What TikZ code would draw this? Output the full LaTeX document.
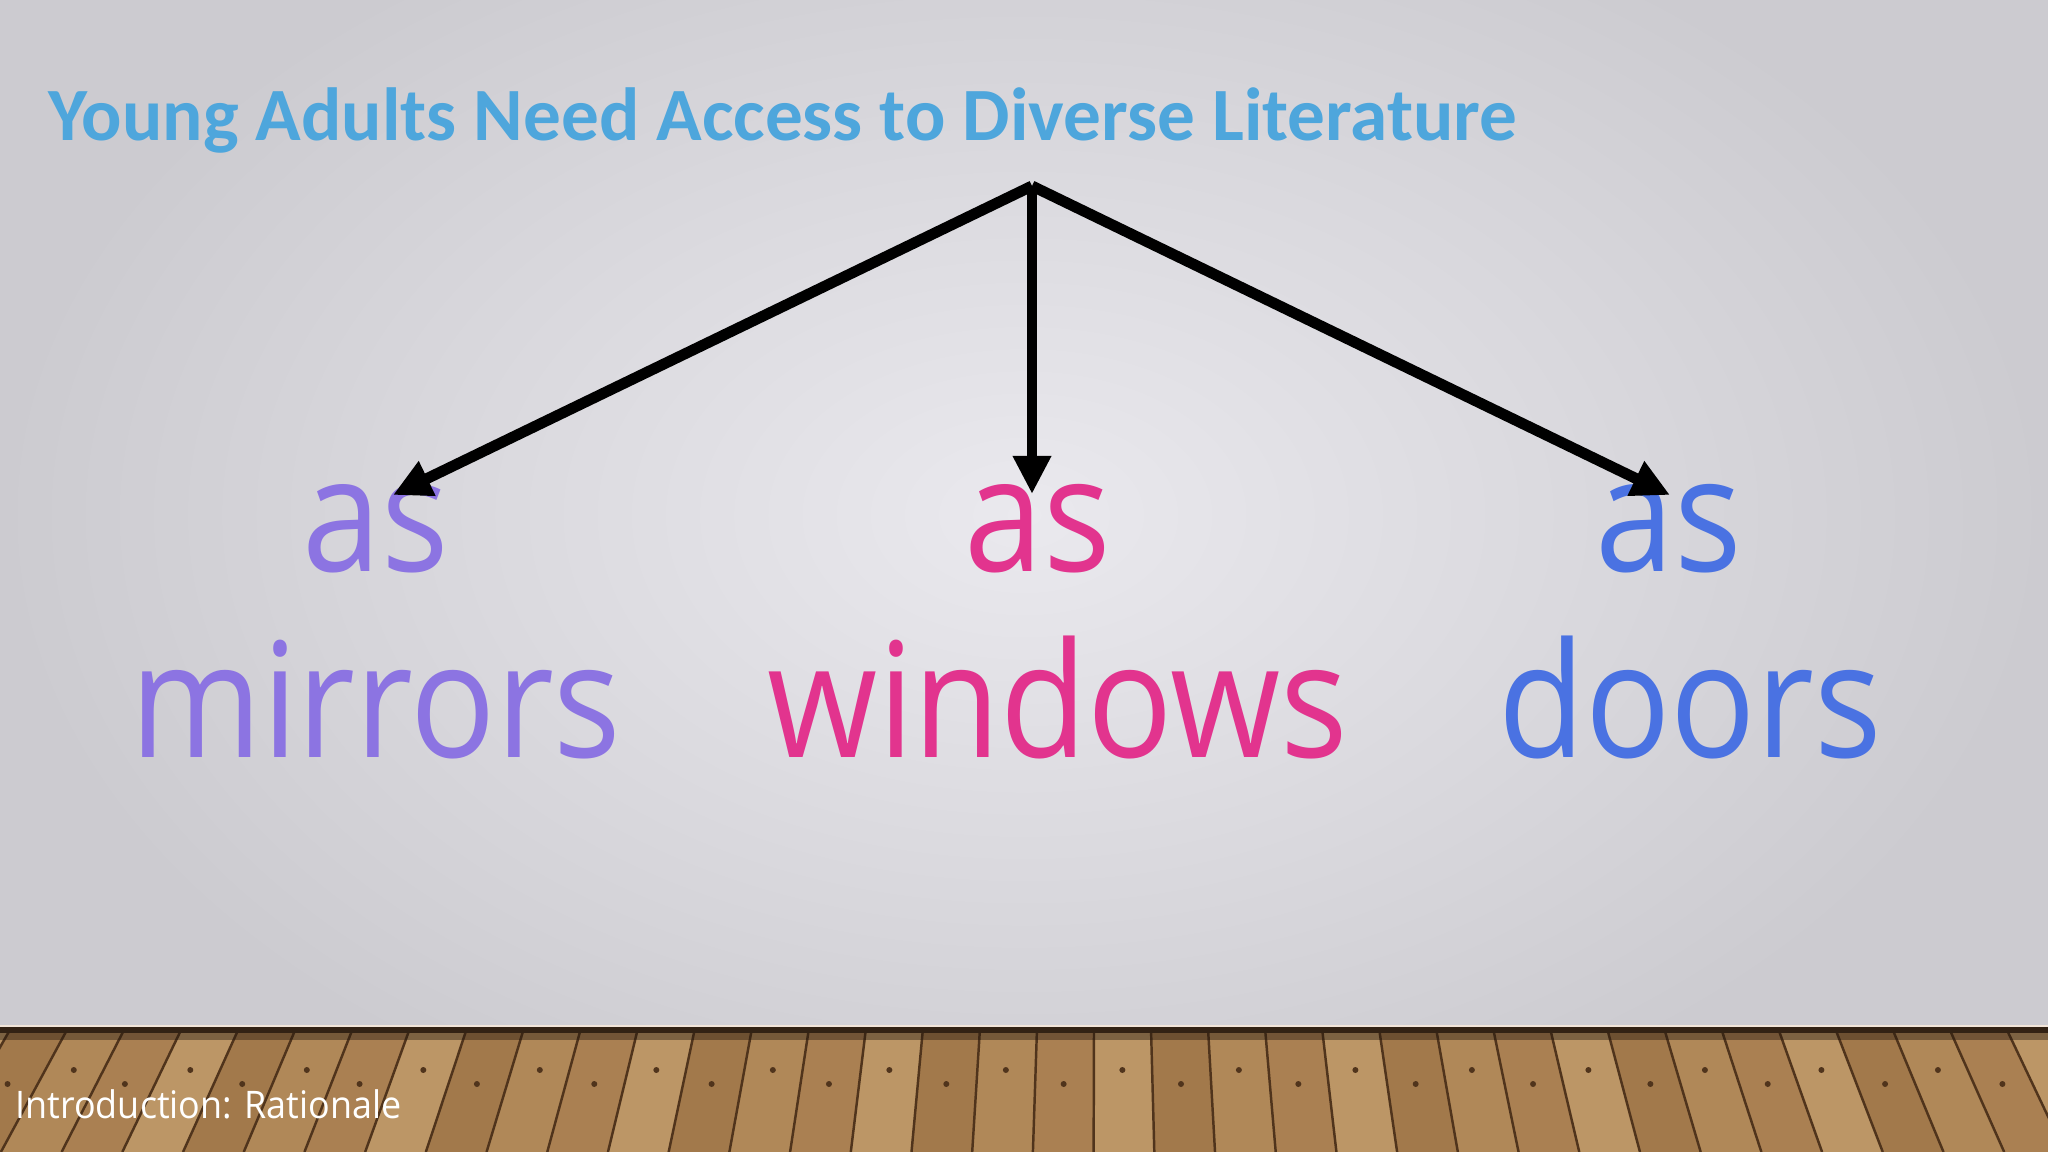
\documentclass[tikz,border=0pt]{standalone}
\usepackage{fontspec}
\setmainfont{Open Sans}
\newfontfamily\titlefont{Carlito}
\usetikzlibrary{arrows.meta}
\definecolor{titleblue}{RGB}{78,166,220}
\definecolor{cmirror}{RGB}{140,116,226}
\definecolor{cwindow}{RGB}{226,52,142}
\definecolor{cdoor}{RGB}{74,114,226}
\definecolor{wallout}{RGB}{204,203,208}
\definecolor{wallin}{RGB}{234,233,238}
\definecolor{wood0}{RGB}{176,136,88}
\definecolor{wood1}{RGB}{162,121,75}
\definecolor{wood2}{RGB}{188,150,102}
\definecolor{wood3}{RGB}{170,128,82}
\definecolor{woodline}{RGB}{80,52,28}
\definecolor{woodedge}{RGB}{50,34,20}
\tikzset{
  titletext/.style={font=\titlefont\bfseries\fontsize{21.4}{25}\selectfont, text=titleblue, inner sep=0pt},
  bigword/.style={font=\fontsize{45.5}{50}\selectfont, inner sep=0pt, anchor=base, xscale=0.885, transform shape},
  labeltext/.style={font=\fontsize{10.8}{13}\selectfont, text=white, inner sep=0pt, anchor=base west, xscale=0.945, transform shape},
  branch/.style={line width=3.1pt, -{Triangle[length=0.38cm,width=0.36cm]}},
}
\begin{document}
\begin{tikzpicture}[x=0.01cm,y=-0.01cm]
\useasboundingbox (0,0) rectangle (2048,1152);
% wall
\fill[wallout] (0,0) rectangle (2048,1030);
\shade[inner color=wallin, outer color=wallout] (0,-150) rectangle (2048,1180);
% floor
\fill[wood0] (0,1028) rectangle (2048,1152);
\foreach \i in {0,...,42} {
  \pgfmathsetmacro\xa{-160+\i*57}
  \pgfmathsetmacro\xb{-160+(\i+1)*57}
  \pgfmathsetmacro\ba{1100+(\xa-1100)*1.065}
  \pgfmathsetmacro\bb{1100+(\xb-1100)*1.065}
  \pgfmathtruncatemacro\m{mod(\i*3,4)}
  \fill[wood\m] (\xa,1028) -- (\xb,1028) -- (\bb,1152) -- (\ba,1152) -- cycle;
  \draw[woodline, line width=0.7pt] (\xa,1028) -- (\ba,1152);
  \pgfmathtruncatemacro\r{mod(\i,2)}
  \pgfmathsetmacro\yd{1070+\r*14}
  \pgfmathsetmacro\xd{\xa+(\xb-\xa)*0.5+(\yd-1028)/1908*(\xa-1100)}
  \fill[woodline] (\xd,\yd) circle (3);
}
\fill[woodedge] (0,1027) rectangle (2048,1033);
\fill[black!40!woodedge, opacity=0.4] (0,1033) rectangle (2048,1040);
\fill[white!80!brown] (0,1025) rectangle (2048,1027);
% title
\node[titletext, anchor=base west] (title) at (48,141) {Young Adults Need Access to Diverse Literature};
% words
\node[bigword, text=cmirror] (as1) at (376,572) {as};
\node[bigword, text=cmirror] (mirrors) at (376,757) {mirrors};
\node[bigword, text=cwindow] (as2) at (1038,572) {as};
\node[bigword, text=cwindow] (windows) at (1058,757) {windows};
\node[bigword, text=cdoor] (as3) at (1669,572) {as};
\node[bigword, text=cdoor] (doors) at (1690,757) {doors};
% arrows
\coordinate (apex) at (1032,186);
\coordinate (tipL) at (393,495);
\coordinate (tipM) at (1032,494);
\coordinate (tipR) at (1670,495);
\draw[branch] (apex) -- (tipL);
\draw[branch] (apex) -- (tipM);
\draw[branch] (apex) -- (tipR);
% footer
\node[labeltext] (footer) at (15,1118) {Introduction: Rationale};
\end{tikzpicture}
\end{document}
